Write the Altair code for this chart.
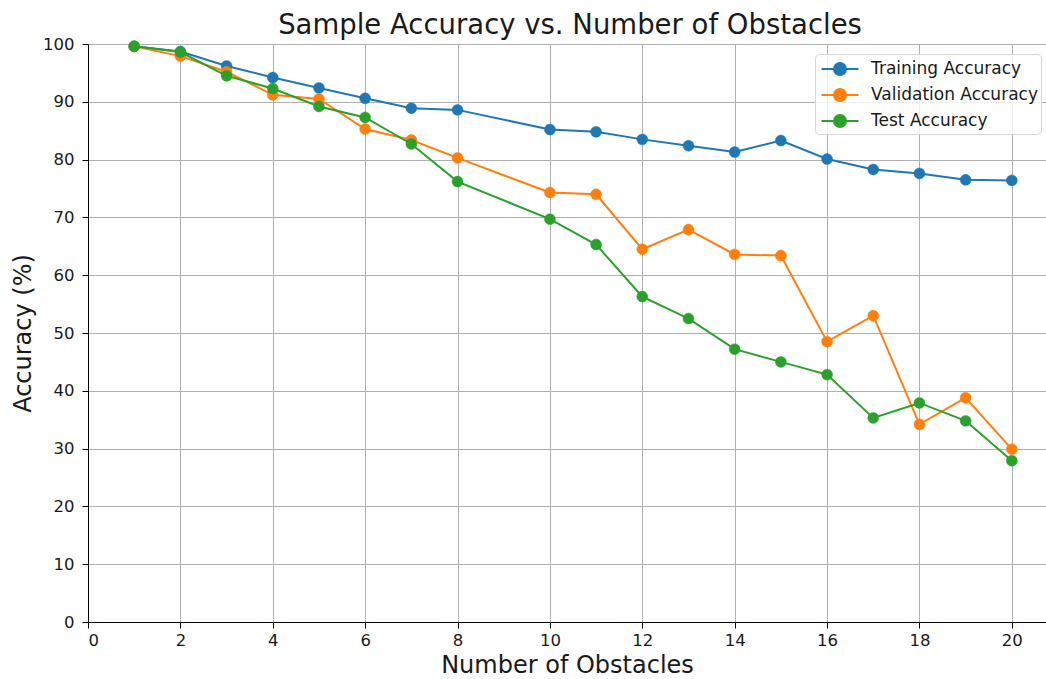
import altair as alt
import pandas as pd

obstacles = [1, 2, 3, 4, 5, 6, 7, 8, 10, 11, 12, 13, 14, 15, 16, 17, 18, 19, 20]
training = [99.6, 98.7, 96.2, 94.2, 92.4, 90.6, 88.9, 88.6, 85.2, 84.8, 83.5, 82.4, 81.3, 83.3, 80.1, 78.3, 77.6, 76.5, 76.4]
validation = [99.6, 97.9, 95.2, 91.2, 90.5, 85.3, 83.4, 80.3, 74.3, 74.0, 64.5, 67.9, 63.6, 63.4, 48.5, 53.0, 34.2, 38.8, 29.9]
test = [99.6, 98.6, 94.5, 92.3, 89.2, 87.3, 82.7, 76.2, 69.7, 65.3, 56.3, 52.5, 47.2, 45.0, 42.8, 35.3, 37.9, 34.8, 27.9]

series_names = ["Training Accuracy", "Validation Accuracy", "Test Accuracy"]
series_colors = ["#1f77b4", "#ff7f0e", "#2ca02c"]
x_ticks = [0, 2, 4, 6, 8, 10, 12, 14, 16, 18, 20]
y_ticks = [0, 10, 20, 30, 40, 50, 60, 70, 80, 90, 100]

rows = []
for name, vals in zip(series_names, [training, validation, test]):
    for xv, yv in zip(obstacles, vals):
        rows.append({"obstacles": xv, "accuracy": yv, "series": name})
df = pd.DataFrame(rows)

FONT = "DejaVu Sans"
TXT = "#1a1a1a"

legend = alt.Legend(
    title=None,
    orient="none",
    legendX=727,
    legendY=10,
    symbolType="M-1.68,0H1.68M0.545,0A0.545,0.545 0 1,1 -0.545,0A0.545,0.545 0 1,1 0.545,0Z",
    symbolSize=484,
    symbolStrokeWidth=2,
    symbolOffset=10,
    labelFont=FONT,
    labelFontSize=17,
    labelColor=TXT,
    labelLimit=400,
    rowPadding=4,
    padding=3,
    fillColor="rgba(255,255,255,0.8)",
    strokeColor="#d6d6d6",
    cornerRadius=4,
    labelOffset=19,
)
scale = alt.Scale(domain=series_names, range=series_colors)

x = alt.X(
    "obstacles:Q",
    scale=alt.Scale(domain=[0, 20.74], nice=False),
    axis=alt.Axis(
        title="Number of Obstacles",
        values=x_ticks,
        format="d",
        grid=True,
        gridColor="#b0b0b0",
        gridWidth=1,
        domainColor="black",
        domainWidth=1,
        tickColor="black",
        tickSize=6,
        labelFont=FONT,
        labelFontSize=16.5,
        labelColor=TXT,
        labelPadding=4,
        titleFont=FONT,
        titleFontSize=24,
        titleFontWeight="normal",
        titleColor=TXT,
        titlePadding=5,
    ),
)

y = alt.Y(
    "accuracy:Q",
    scale=alt.Scale(domain=[0, 100], nice=False),
    axis=alt.Axis(
        title="Accuracy (%)",
        values=y_ticks,
        grid=True,
        gridColor="#b0b0b0",
        gridWidth=1,
        domainColor="black",
        domainWidth=1,
        tickColor="black",
        tickSize=6,
        labelFont=FONT,
        labelFontSize=16.5,
        labelColor=TXT,
        labelPadding=8,
        titleFont=FONT,
        titleFontSize=24,
        titleFontWeight="normal",
        titleColor=TXT,
        titlePadding=7,
    ),
)

layers = []
for name in series_names:
    sub = alt.Chart(df).transform_filter(alt.datum.series == name)
    layers.append(
        sub.mark_line(strokeWidth=2).encode(
            x=x, y=y, stroke=alt.Stroke("series:N", scale=scale, legend=legend)
        )
    )
    layers.append(
        sub.mark_point(filled=True, size=120, opacity=1, strokeWidth=0.5).encode(
            x=x,
            y=y,
            fill=alt.Fill("series:N", scale=scale, legend=legend),
            stroke=alt.Stroke("series:N", scale=scale, legend=legend),
        )
    )

chart = (
    alt.layer(*layers)
    .properties(
        width=958,
        height=578,
        title=alt.TitleParams(
            "Sample Accuracy vs. Number of Obstacles",
            font=FONT,
            fontSize=27.5,
            fontWeight="normal",
            color=TXT,
            anchor="middle",
            offset=0,
            dx=3,
            dy=3,
        ),
        autosize=alt.AutoSizeParams(type="none"),
        padding={"left": 88, "top": 44, "right": 0, "bottom": 57},
    )
    .configure_view(stroke="black", strokeWidth=1)
    .configure(background="white")
)

chart.save("out.html", embed_options={"renderer": "svg", "actions": False})
